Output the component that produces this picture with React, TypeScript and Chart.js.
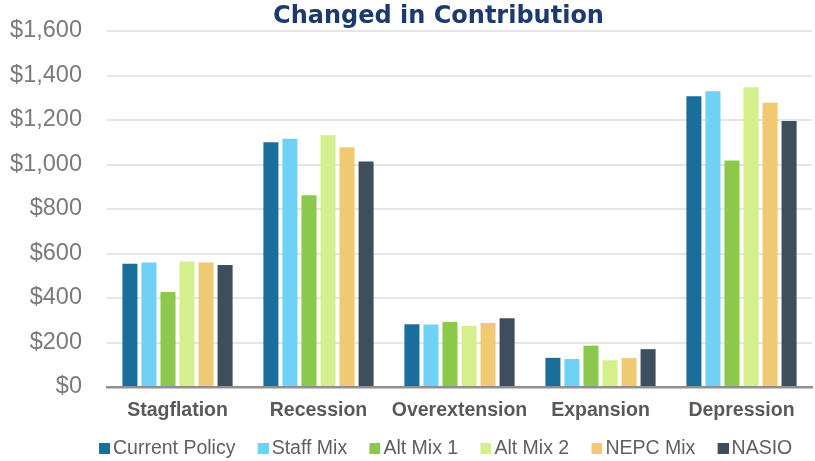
import { useEffect, useRef } from 'react';
import { Chart, registerables } from 'chart.js';

Chart.register(...registerables);

const TITLE = 'Changed in Contribution';
const categories = ['Stagflation', 'Recession', 'Overextension', 'Expansion', 'Depression'];
const seriesNames = ['Current Policy', 'Staff Mix', 'Alt Mix 1', 'Alt Mix 2', 'NEPC Mix', 'NASIO'];
const currentPolicy = [554, 1100, 282, 131, 1307];
const staffMix = [560, 1116, 281, 126, 1329];
const altMix1 = [427, 862, 292, 186, 1018];
const altMix2 = [564, 1131, 275, 120, 1347];
const nepcMix = [560, 1077, 288, 130, 1277];
const nasio = [548, 1013, 309, 170, 1196];
const seriesValues = [currentPolicy, staffMix, altMix1, altMix2, nepcMix, nasio];
const seriesColors = ['#1a6e9b', '#6fd1f6', '#8cc84b', '#d5ef8c', '#efca72', '#3f4e5d'];
const yMin = 0;
const yMax = 1600;
const yStep = 200;

const SANS = "'Liberation Sans', Arial, sans-serif";

// shifts the title and legend boxes horizontally after layout
const TITLE_SHIFT = 32.5;
const LEGEND_SHIFT = 36;
const nudgePlugin = {
  id: 'nudge',
  afterLayout(chart: any) {
    const shift = (box: any, dx: number) => {
      if (box && dx) {
        box.left += dx;
        box.right += dx;
      }
    };
    shift(chart.titleBlock, TITLE_SHIFT);
    shift(chart.legend, LEGEND_SHIFT);
  },
};

export default function App() {
  const ref = useRef<HTMLCanvasElement | null>(null);

  useEffect(() => {
    const canvas = ref.current;
    if (!canvas) return;

    // legend swatch: 11px square at the right end of a 25px wide transparent strip
    const swatches = seriesColors.map((c) => {
      const s = document.createElement('canvas');
      s.width = 25;
      s.height = 11;
      const g = s.getContext('2d');
      if (g) {
        g.fillStyle = c;
        g.fillRect(14, 0, 11, 11);
      }
      return s;
    });

    const chart = new Chart(canvas, {
      type: 'bar',
      data: {
        labels: categories,
        datasets: seriesNames.map((name, i) => ({
          label: name,
          data: seriesValues[i],
          backgroundColor: seriesColors[i],
          borderWidth: 0,
          categoryPercentage: 0.81,
          barPercentage: 0.79,
        })),
      },
      plugins: [nudgePlugin],
      options: {
        responsive: false,
        animation: false,
        devicePixelRatio: 1,
        layout: { padding: { top: 0, left: 0, right: 3, bottom: -7.15 } },
        plugins: {
          title: {
            display: true,
            text: TITLE,
            color: '#1d3a6e',
            font: { family: "'DejaVu Sans', sans-serif", size: 24, weight: 'bold', lineHeight: 1.15 },
            padding: { top: 3.4, bottom: 0 },
          },
          legend: {
            position: 'bottom',
            labels: {
              font: { family: SANS, size: 19.5 },
              color: '#5f5f5f',
              padding: 15,
              usePointStyle: true,
              boxWidth: 11.5,
              generateLabels: (c: any) =>
                (Chart.defaults.plugins.legend.labels as any)
                  .generateLabels(c)
                  .map((item: any, i: number) => ({ ...item, pointStyle: swatches[i] })),
            },
          },
          tooltip: { enabled: false },
        },
        scales: {
          x: {
            z: 1,
            grid: { display: false, drawTicks: false },
            border: { display: true, color: '#8f8f8f', width: 2.5 },
            ticks: {
              color: '#595959',
              font: { family: SANS, size: 19.5, weight: 'bold', lineHeight: 1.3 },
              padding: 11.3,
              maxRotation: 0,
            },
            afterFit: (scale: any) => {
              scale.height = 36.65;
            },
          },
          y: {
            min: yMin,
            max: yMax,
            grid: {
              drawTicks: false,
              lineWidth: 2,
              color: (ctx: any) => (ctx.tick && ctx.tick.value === 0 ? 'rgba(0,0,0,0)' : '#e6e6e6'),
            },
            border: { display: false },
            ticks: {
              stepSize: yStep,
              padding: 25,
              color: '#7a7a7a',
              font: { family: SANS, size: 23.5, lineHeight: 0.5 },
              callback: (v: any) => '$' + Number(v).toLocaleString('en-US'),
            },
            afterFit: (scale: any) => {
              scale.width = 107;
            },
          },
        },
      } as any,
    });

    return () => chart.destroy();
  }, []);

  return (
    <div style={{ position: 'fixed', left: 0, top: 0, width: 815, height: 461, background: '#ffffff' }}>
      <canvas ref={ref} width={815} height={461} style={{ display: 'block' }} />
    </div>
  );
}
